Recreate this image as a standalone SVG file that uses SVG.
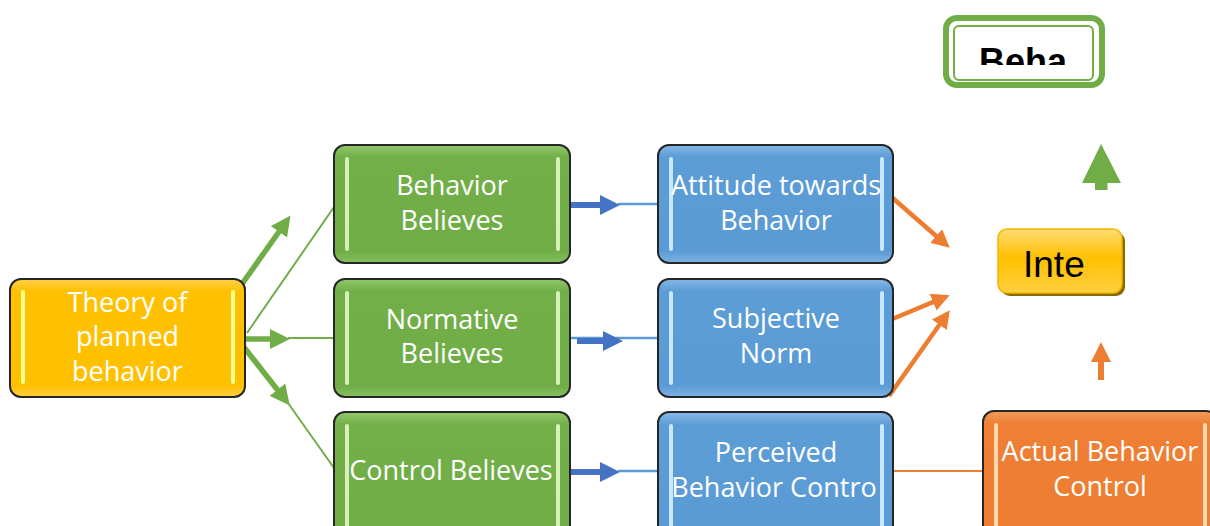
<svg xmlns="http://www.w3.org/2000/svg" width="1210" height="526" viewBox="0 0 1210 526">
<defs>
  <linearGradient id="gGreen" x1="0" y1="0" x2="0" y2="1">
    <stop offset="0" stop-color="#93C96C"/><stop offset="0.1" stop-color="#72AF49"/><stop offset="0.9" stop-color="#70AD47"/><stop offset="1" stop-color="#86BF60"/>
  </linearGradient>
  <linearGradient id="gBlue" x1="0" y1="0" x2="0" y2="1">
    <stop offset="0" stop-color="#86B8E6"/><stop offset="0.1" stop-color="#5D9DD6"/><stop offset="0.9" stop-color="#5B9BD5"/><stop offset="1" stop-color="#7DB2E3"/>
  </linearGradient>
  <linearGradient id="gGold" x1="0" y1="0" x2="0" y2="1">
    <stop offset="0" stop-color="#FFD04D"/><stop offset="0.1" stop-color="#FFC102"/><stop offset="0.9" stop-color="#FFC000"/><stop offset="1" stop-color="#FFCF40"/>
  </linearGradient>
  <linearGradient id="gOrange" x1="0" y1="0" x2="0" y2="1">
    <stop offset="0" stop-color="#F29A5E"/><stop offset="0.1" stop-color="#EE7F34"/><stop offset="0.9" stop-color="#ED7D31"/><stop offset="1" stop-color="#F19457"/>
  </linearGradient>
  <linearGradient id="gInte" x1="0" y1="0" x2="0" y2="1">
    <stop offset="0" stop-color="#FFDC73"/><stop offset="0.45" stop-color="#FFC000"/><stop offset="1" stop-color="#FFD040"/>
  </linearGradient>
  <clipPath id="behaClip"><rect x="950" y="27" width="142" height="38"/></clipPath>
  <marker id="mGreen" viewBox="0 0 20 20" refX="1" refY="10" markerWidth="20" markerHeight="20" markerUnits="userSpaceOnUse" orient="auto">
    <path d="M0,0 L20,10 L0,20 z" fill="#70AD47"/>
  </marker>
  <marker id="mBlue" viewBox="0 0 20 20" refX="1" refY="10" markerWidth="20" markerHeight="20" markerUnits="userSpaceOnUse" orient="auto">
    <path d="M0,0 L20,10 L0,20 z" fill="#4472C4"/>
  </marker>
  <marker id="mOrange" viewBox="0 0 18 18" refX="1" refY="9" markerWidth="18" markerHeight="18" markerUnits="userSpaceOnUse" orient="auto">
    <path d="M0,0 L18,9 L0,18 z" fill="#ED7D31"/>
  </marker>
</defs>
<style>
  .box{stroke:#262626;stroke-width:2}
  .lbl{font-family:"Open Sans","Liberation Sans",sans-serif;font-size:27px;fill:#ffffff;text-anchor:middle}
  .barG{fill:#D6F0B8}
  .barB{fill:#C8E8FF}
  .barY{fill:#FFFF8C}
  .barO{fill:#FFD8AE}
  .thinG{stroke:#70AD47;stroke-width:2;fill:none}
  .thickG{stroke:#70AD47;stroke-width:5.5;fill:none;marker-end:url(#mGreen)}
  .thinB{stroke:#5B9BD5;stroke-width:2.5;fill:none}
  .thickB{stroke:#4472C4;stroke-width:6;fill:none;marker-end:url(#mBlue)}
  .thickO{stroke:#ED7D31;stroke-width:4.5;fill:none;marker-end:url(#mOrange)}
  .thinO{stroke:#ED7D31;stroke-width:2;fill:none}
</style>
<rect width="1210" height="526" fill="#ffffff"/>

<g id="connectors">
  <line class="thinG" x1="247" y1="333" x2="334" y2="207"/>
  <line class="thinG" x1="288" y1="338" x2="334" y2="338"/>
  <line class="thinG" x1="288" y1="403" x2="334" y2="468"/>
  <line class="thickG" x1="242" y1="284" x2="279.5" y2="231"/>
  <line class="thickG" x1="240" y1="339" x2="271" y2="339"/>
  <line class="thickG" x1="243" y1="346" x2="278" y2="390.5"/>

  <line class="thinB" x1="618" y1="204" x2="658" y2="204"/>
  <line class="thickB" x1="570" y1="205" x2="601" y2="205"/>
  <line class="thinB" x1="570" y1="338" x2="658" y2="338"/>
  <line class="thickB" x1="577" y1="341" x2="604" y2="341"/>
  <line class="thinB" x1="618" y1="471" x2="658" y2="471"/>
  <line class="thickB" x1="570" y1="472" x2="601" y2="472"/>

  <line class="thickO" x1="888" y1="194" x2="937" y2="236.7"/>
  <line class="thickO" x1="890" y1="320" x2="934" y2="301.7"/>
  <line class="thickO" x1="889" y1="396" x2="940" y2="324"/>
  <line class="thinO" x1="893" y1="471" x2="983" y2="471"/>

  <polygon points="1101,144 1121,183 1107.5,183 1107.5,190 1095,190 1095,183 1082,183" fill="#70AD47"/>
  <polygon points="1101,342 1111,362 1104,362 1104,380 1098,380 1098,362 1091,362" fill="#ED7D31"/>
</g>

<g id="theory">
  <rect class="box" x="10" y="279" width="235" height="118" rx="11" fill="url(#gGold)"/>
  <rect class="barY" x="21" y="290" width="4" height="94" rx="2"/>
  <rect class="barY" x="231" y="290" width="4" height="94" rx="2"/>
  <text class="lbl" x="127.5" y="312">Theory of</text>
  <text class="lbl" x="127.5" y="346">planned</text>
  <text class="lbl" x="127.5" y="381">behavior</text>
</g>

<g id="behavior-believes">
  <rect class="box" x="334" y="145" width="236" height="118" rx="11" fill="url(#gGreen)"/>
  <rect class="barG" x="345" y="157" width="4" height="94" rx="2"/>
  <rect class="barG" x="556" y="157" width="4" height="94" rx="2"/>
  <text class="lbl" x="452" y="195">Behavior</text>
  <text class="lbl" x="452" y="230">Believes</text>
</g>

<g id="normative-believes">
  <rect class="box" x="334" y="279" width="236" height="118" rx="11" fill="url(#gGreen)"/>
  <rect class="barG" x="345" y="291" width="4" height="94" rx="2"/>
  <rect class="barG" x="556" y="291" width="4" height="94" rx="2"/>
  <text class="lbl" x="452" y="329">Normative</text>
  <text class="lbl" x="452" y="363">Believes</text>
</g>

<g id="control-believes">
  <rect class="box" x="334" y="412" width="236" height="130" rx="11" fill="url(#gGreen)"/>
  <rect class="barG" x="345" y="424" width="4" height="106" rx="2"/>
  <rect class="barG" x="556" y="424" width="4" height="106" rx="2"/>
  <text class="lbl" x="451" y="480">Control Believes</text>
</g>

<g id="attitude">
  <rect class="box" x="658" y="145" width="235" height="118" rx="11" fill="url(#gBlue)"/>
  <rect class="barB" x="669" y="157" width="4" height="94" rx="2"/>
  <rect class="barB" x="880" y="157" width="4" height="94" rx="2"/>
  <text class="lbl" x="776" y="195">Attitude towards</text>
  <text class="lbl" x="776" y="230">Behavior</text>
</g>

<g id="subjective-norm">
  <rect class="box" x="658" y="279" width="235" height="118" rx="11" fill="url(#gBlue)"/>
  <rect class="barB" x="669" y="291" width="4" height="94" rx="2"/>
  <rect class="barB" x="880" y="291" width="4" height="94" rx="2"/>
  <text class="lbl" x="776" y="328">Subjective</text>
  <text class="lbl" x="776" y="363">Norm</text>
</g>

<g id="perceived-control">
  <rect class="box" x="658" y="412" width="235" height="130" rx="11" fill="url(#gBlue)"/>
  <text class="lbl" x="776" y="462">Perceived</text>
  <text class="lbl" x="774" y="497">Behavior Contro</text>
  <rect class="barB" x="669" y="424" width="4" height="106" rx="2"/>
  <rect class="barB" x="880" y="424" width="4" height="106" rx="2"/>
</g>

<g id="actual-control">
  <rect class="box" x="983" y="411" width="234" height="130" rx="11" fill="url(#gOrange)"/>
  <rect class="barO" x="994" y="423" width="4" height="106" rx="2"/>
  <rect class="barO" x="1203" y="423" width="4" height="106" rx="2"/>
  <text class="lbl" x="1100" y="461">Actual Behavior</text>
  <text class="lbl" x="1100" y="496">Control</text>
</g>

<g id="intention">
  <rect x="1001" y="232" width="124" height="64" rx="9" fill="#8A6A00"/>
  <rect x="998" y="229" width="124" height="64" rx="9" fill="url(#gInte)" stroke="#F2B600" stroke-width="1.5"/>
  <text x="1023" y="277" font-family="'Liberation Sans', Arial, sans-serif" font-size="37" fill="#000000">Inte</text>
</g>

<g id="behavior">
  <rect x="946" y="18" width="156" height="67" rx="11" fill="#ffffff" stroke="#70AD47" stroke-width="6"/>
  <rect x="954" y="26" width="139" height="54" rx="5" fill="none" stroke="#70AD47" stroke-width="2"/>
  <text x="1023" y="74" clip-path="url(#behaClip)" font-family="'Liberation Sans', Arial, sans-serif" font-size="36" font-weight="bold" text-anchor="middle" fill="#000000">Beha</text>
</g>
</svg>
